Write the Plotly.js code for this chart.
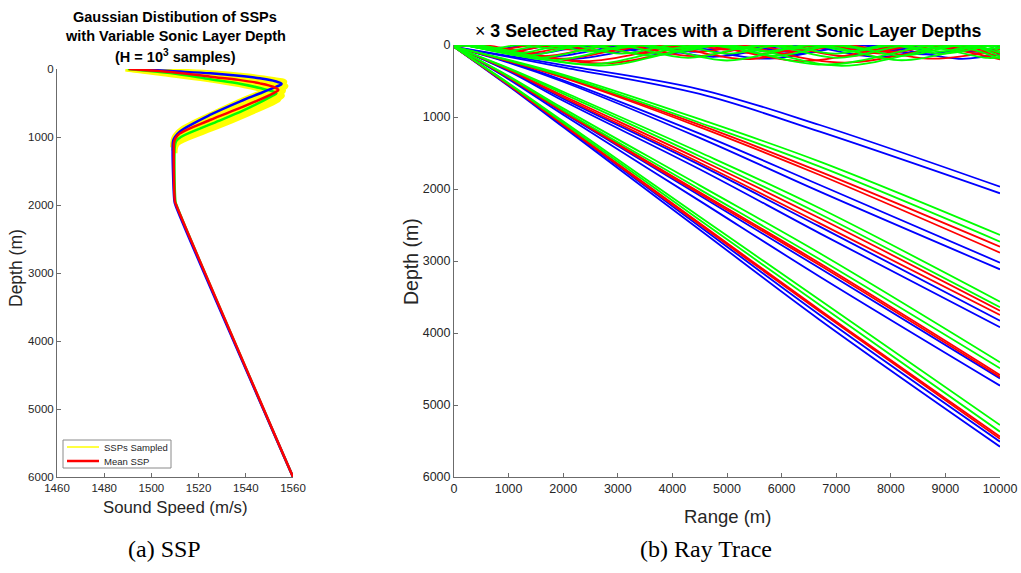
<!DOCTYPE html>
<html>
<head>
<meta charset="utf-8">
<script src="https://cdn.plot.ly/plotly-3.0.1.min.js"></script>
<style>html,body{margin:0;padding:0;background:#fff}#chart{width:1021px;height:573px}</style>
</head>
<body>
<div id="chart"></div>
<script>
// ---------------- Left panel: sound speed profiles ----------------
const speedTicks = [1460, 1480, 1500, 1520, 1540, 1560];
const speedTickText = ['1460', '1480', '1500', '1520', '1540', '1560'];
const depthTicks = [0, 1000, 2000, 3000, 4000, 5000, 6000];
const depthTickText = ['0', '1000', '2000', '3000', '4000', '5000', '6000'];
const legendNames = ['SSPs Sampled', 'Mean SSP'];

const meanSspDepth = [0, 50, 113, 160, 211, 260, 309, 350, 554, 750, 950, 1020, 1080, 1150, 1950, 2000, 6000];
const meanSspSpeed = [1490.5, 1510, 1525, 1537, 1546, 1551.5, 1553.8, 1552, 1538.9, 1524.8, 1512, 1510.2, 1509.6, 1509.5, 1510, 1510.5, 1560];

const blueSspDepth = [0, 30, 64, 100, 137, 180, 220, 260, 456, 676, 921, 1000, 1060, 1150, 1950, 2000, 6000];
const blueSspSpeed = [1494, 1508, 1525, 1537, 1546, 1552.5, 1555.2, 1553, 1539, 1524.8, 1512, 1510, 1509.2, 1509, 1509.8, 1510.2, 1560];

const greenSspDepth = [0, 60, 150, 220, 280, 330, 357, 400, 610, 800, 1000, 1060, 1120, 1200, 1950, 2000, 6000];
const greenSspSpeed = [1490, 1508, 1525, 1538, 1546, 1551.5, 1553, 1551, 1539, 1526, 1512.5, 1510.5, 1510, 1509.8, 1510.2, 1510.6, 1560];

// sampled SSPs (upper part only: below ~1200 m they collapse onto the mean profile)
const sampleSspDepths = [
  [0, 30, 60, 100, 150, 190, 230, 420, 640, 880, 980, 1050, 1150],
  [0, 40, 80, 130, 190, 250, 290, 480, 700, 930, 1010, 1070, 1150],
  [0, 50, 110, 170, 240, 320, 360, 560, 770, 980, 1040, 1100, 1200],
  [0, 60, 130, 200, 280, 390, 430, 630, 830, 1020, 1080, 1140, 1220],
  [0, 70, 150, 230, 320, 440, 480, 660, 850, 1040, 1100, 1160, 1240]
];
const sampleSspSpeeds = [
  [1492, 1510, 1527, 1540, 1551, 1556.5, 1555, 1541, 1527, 1513, 1510, 1509.2, 1509],
  [1491, 1509, 1525, 1539, 1550, 1557, 1555.5, 1542, 1527, 1513, 1510, 1509.4, 1509.2],
  [1490, 1508, 1526, 1540, 1550, 1556, 1554.5, 1541, 1526, 1512, 1510.2, 1509.6, 1509.5],
  [1489.5, 1506, 1524, 1538, 1549, 1555.5, 1554, 1540, 1526, 1513, 1510.6, 1510, 1509.8],
  [1489, 1505, 1523, 1537, 1548, 1554, 1552.5, 1541, 1528, 1514, 1511, 1510.2, 1510]
];

// ---------------- Right panel: ray traces ----------------
const rangeTicks = [0, 1000, 2000, 3000, 4000, 5000, 6000, 7000, 8000, 9000, 10000];
const rangeTickText = ['0', '1000', '2000', '3000', '4000', '5000', '6000', '7000', '8000', '9000', '10000'];
const deepRayRange = [0, 1000, 2000, 4500, 6700, 10000];

const blueDeepDepths = [
  [25, 150, 280, 615, 1111, 1968],
  [25, 165, 310, 680, 1204, 2060],
  [25, 235, 490, 1230, 1944, 3023],
  [25, 245, 510, 1290, 2037, 3116],
  [25, 355, 745, 1665, 2523, 3829],
  [25, 365, 775, 1725, 2616, 3921],
  [25, 460, 940, 2090, 3102, 4630],
  [25, 475, 970, 2165, 3218, 4731],
  [25, 560, 1120, 2520, 3750, 5509],
  [25, 570, 1140, 2565, 3819, 5579]
];
const redDeepDepths = [
  [25, 220, 445, 1110, 1759, 2801],
  [25, 225, 455, 1140, 1806, 2884],
  [25, 340, 705, 1590, 2407, 3690],
  [25, 345, 725, 1635, 2477, 3750],
  [25, 450, 920, 2045, 3032, 4583],
  [25, 455, 930, 2065, 3060, 4610],
  [25, 550, 1100, 2475, 3681, 5440],
  [25, 555, 1110, 2495, 3700, 5470]
];
const greenDeepDepths = [
  [25, 205, 410, 1030, 1620, 2639],
  [25, 215, 430, 1080, 1690, 2731],
  [25, 320, 650, 1490, 2268, 3565],
  [25, 330, 675, 1545, 2347, 3643],
  [25, 430, 880, 1950, 2893, 4407],
  [25, 440, 905, 2005, 2977, 4491],
  [25, 530, 1060, 2385, 3542, 5278],
  [25, 540, 1080, 2430, 3611, 5370]
];

// surface-duct (trapped) rays
const blueTrapRanges = [
  [0, 300, 2100, 3900, 5700, 7500, 9300, 10000],
  [0, 250, 1750, 3250, 4750, 6250, 7750, 9250, 10000],
  [0, 200, 1400, 2600, 3800, 5000, 6200, 7400, 8600, 9800, 10000],
  [0, 150, 1000, 1850, 2700, 3550, 4400, 5250, 6100, 6950, 7800, 8650, 9500, 10000],
  [0, 100, 750, 1400, 2050, 2700, 3350, 4000, 4650, 5300, 5950, 6600, 7250, 7900, 8550, 9200, 9850, 10000]
];
const blueTrapDepths = [
  [25, 0, 195, 0, 190, 0, 192, 120],
  [25, 0, 165, 0, 165, 0, 165, 0, 110],
  [25, 0, 130, 0, 130, 0, 130, 0, 130, 0, 40],
  [25, 0, 95, 0, 95, 0, 95, 0, 95, 0, 95, 0, 95, 55],
  [25, 0, 60, 0, 60, 0, 60, 0, 60, 0, 60, 0, 60, 0, 60, 0, 60, 30]
];
const redTrapRanges = [
  [0, 500, 2700, 4900, 7150, 9400, 10000],
  [0, 400, 2400, 4400, 6400, 8400, 10000],
  [0, 250, 1950, 3650, 5350, 7050, 8750, 10000],
  [0, 200, 1600, 3000, 4400, 5800, 7200, 8600, 10000],
  [0, 150, 1250, 2350, 3450, 4550, 5650, 6750, 7850, 8950, 10000],
  [0, 120, 1000, 1880, 2760, 3640, 4520, 5400, 6280, 7160, 8040, 8920, 9800, 10000],
  [0, 100, 800, 1500, 2200, 2900, 3600, 4300, 5000, 5700, 6400, 7100, 7800, 8500, 9200, 9900, 10000]
];
const redTrapDepths = [
  [25, 0, 255, 0, 245, 0, 120],
  [25, 0, 225, 0, 225, 0, 200],
  [25, 0, 190, 0, 195, 0, 190, 60],
  [25, 0, 155, 0, 155, 0, 155, 0, 155],
  [25, 0, 120, 0, 120, 0, 120, 0, 120, 0, 118],
  [25, 0, 92, 0, 92, 0, 92, 0, 92, 0, 92, 0, 92, 30],
  [25, 0, 65, 0, 65, 0, 65, 0, 65, 0, 65, 0, 65, 0, 65, 0, 10]
];
const greenTrapRanges = [
  [0, 400, 2650, 4900, 7100, 9350, 10000],
  [0, 300, 2450, 4600, 6800, 9000, 10000],
  [0, 200, 1800, 3400, 5000, 6600, 8200, 9800, 10000],
  [0, 180, 1550, 2920, 4290, 5660, 7030, 8400, 9770, 10000],
  [0, 150, 1300, 2450, 3600, 4750, 5900, 7050, 8200, 9350, 10000],
  [0, 120, 1100, 2080, 3060, 4040, 5020, 6000, 6980, 7960, 8940, 9920, 10000],
  [0, 100, 900, 1700, 2500, 3300, 4100, 4900, 5700, 6500, 7300, 8100, 8900, 9700, 10000],
  [0, 80, 650, 1220, 1790, 2360, 2930, 3500, 4070, 4640, 5210, 5780, 6350, 6920, 7490, 8060, 8630, 9200, 9770, 10000]
];
const greenTrapDepths = [
  [25, 0, 285, 0, 288, 0, 160],
  [25, 0, 268, 0, 272, 0, 190],
  [25, 0, 210, 0, 215, 0, 212, 0, 50],
  [25, 0, 180, 0, 180, 0, 180, 0, 180, 170],
  [25, 0, 150, 0, 150, 0, 150, 0, 150, 0, 110],
  [25, 0, 120, 0, 120, 0, 120, 0, 120, 0, 120, 0, 15],
  [25, 0, 90, 0, 90, 0, 90, 0, 90, 0, 90, 0, 90, 0, 90, 0, 55],
  [25, 0, 50, 0, 50, 0, 50, 0, 50, 0, 50, 0, 50, 0, 50, 0, 50, 0, 50, 40]
];

// ---------------- Build traces ----------------
const BLUE = '#0000ff', RED = '#ff0000', GREEN = '#00ff00', YELLOW = '#ffff00';
const traces = [];

sampleSspSpeeds.forEach((sp, i) => {
  traces.push({x: sp, y: sampleSspDepths[i], xaxis: 'x', yaxis: 'y', mode: 'lines',
    line: {color: YELLOW, width: 5, shape: 'spline'}, showlegend: false, hoverinfo: 'skip'});
});
traces.push({x: greenSspSpeed, y: greenSspDepth, xaxis: 'x', yaxis: 'y', mode: 'lines',
  line: {color: GREEN, width: 2.5, shape: 'spline'}, showlegend: false});
traces.push({x: blueSspSpeed, y: blueSspDepth, xaxis: 'x', yaxis: 'y', mode: 'lines',
  line: {color: BLUE, width: 2.5, shape: 'spline'}, showlegend: false});
traces.push({x: meanSspSpeed, y: meanSspDepth, xaxis: 'x', yaxis: 'y', mode: 'lines',
  line: {color: RED, width: 2.5, shape: 'spline'}, showlegend: false});

function addRays(ranges, depths, color) {
  depths.forEach((d, i) => {
    const r = Array.isArray(ranges[0]) ? ranges[i] : ranges;
    traces.push({x: r, y: d, xaxis: 'x2', yaxis: 'y2', mode: 'lines',
      line: {color: color, width: 1.8, shape: 'spline'}, showlegend: false, hoverinfo: 'skip'});
  });
}
addRays(blueTrapRanges, blueTrapDepths, BLUE);
addRays(deepRayRange, blueDeepDepths, BLUE);
addRays(redTrapRanges, redTrapDepths, RED);
addRays(deepRayRange, redDeepDepths, RED);
addRays(greenTrapRanges, greenTrapDepths, GREEN);
addRays(deepRayRange, greenDeepDepths, GREEN);

// ---------------- Layout ----------------
const W = 1021, H = 573;
const px = v => v / W, py = v => 1 - v / H;
const FONT = 'Liberation Sans, Arial, Helvetica, sans-serif';
const SERIF = 'Liberation Serif, Times New Roman, serif';
const axisCommon = {showline: true, linecolor: '#6b6b6b', linewidth: 1, ticks: 'inside', ticklen: 4,
  tickcolor: '#6b6b6b', showgrid: false, zeroline: false, mirror: false, tickmode: 'array'};

// hand-drawn legend box (left panel)
const legendShapes = [
  {type: 'rect', xref: 'paper', yref: 'paper', x0: px(63), x1: px(171), y0: py(468), y1: py(440),
    line: {color: '#8a8a8a', width: 1}, fillcolor: '#ffffff', layer: 'above'},
  {type: 'line', xref: 'paper', yref: 'paper', x0: px(67), x1: px(99), y0: py(447), y1: py(447),
    line: {color: YELLOW, width: 1.5}, layer: 'above'},
  {type: 'line', xref: 'paper', yref: 'paper', x0: px(67), x1: px(99), y0: py(461), y1: py(461),
    line: {color: RED, width: 2.5}, layer: 'above'}
];

const annDefs = [
  {text: '<b>Gaussian Distibution of SSPs</b>', x: 175, y: 17},
  {text: '<b>with Variable Sonic Layer Depth</b>', x: 175, y: 36.5},
  {text: '<b>(H = 10<sup>3</sup> samples)</b>', x: 175, y: 56},
  {text: '× <b>3 Selected Ray Traces with a Different Sonic Layer Depths</b>', x: 728, y: 31, fsize: 17.8},
  {text: 'Sound Speed (m/s)', x: 175, y: 507, fsize: 16.8, color: '#262626'},
  {text: 'Depth (m)', x: 16, y: 268, fsize: 17.5, color: '#262626', textangle: -90},
  {text: 'Range (m)', x: 727, y: 516, fsize: 18.5, color: '#262626'},
  {text: 'Depth (m)', x: 411, y: 262, fsize: 19.5, color: '#262626', textangle: -90},
  {text: '(a) SSP', x: 164, y: 549, fsize: 24, family: SERIF},
  {text: '(b) Ray Trace', x: 706, y: 549, fsize: 24, family: SERIF},
  {text: legendNames[0], x: 102, y: 447, fsize: 9.5, color: '#262626', xanchor: 'left'},
  {text: legendNames[1], x: 102, y: 461, fsize: 9.5, color: '#262626', xanchor: 'left'}
];

const layout = {
  width: W, height: H,
  margin: {l: 0, r: 0, t: 0, b: 0},
  paper_bgcolor: '#ffffff', plot_bgcolor: '#ffffff',
  showlegend: false,
  xaxis: Object.assign({}, axisCommon, {domain: [px(57), px(293)], range: [1460, 1560],
    tickvals: speedTicks, ticktext: speedTickText, anchor: 'y',
    tickfont: {family: FONT, size: 11.5, color: '#262626'}}),
  yaxis: Object.assign({}, axisCommon, {domain: [py(477), py(69)], range: [6000, 0],
    tickvals: depthTicks, ticktext: depthTickText, anchor: 'x',
    tickfont: {family: FONT, size: 11.5, color: '#262626'}}),
  xaxis2: Object.assign({}, axisCommon, {domain: [px(454), px(1000)], range: [0, 10000],
    tickvals: rangeTicks, ticktext: rangeTickText, anchor: 'y2',
    tickfont: {family: FONT, size: 12.5, color: '#262626'}}),
  yaxis2: Object.assign({}, axisCommon, {domain: [py(477), py(45)], range: [6000, 0],
    tickvals: depthTicks, ticktext: depthTickText, anchor: 'x2',
    tickfont: {family: FONT, size: 12.5, color: '#262626'}}),
  shapes: legendShapes,
  annotations: annDefs.map(a => ({text: a.text, x: px(a.x), y: py(a.y), xref: 'paper', yref: 'paper',
    xanchor: a.xanchor || 'center', yanchor: 'middle', showarrow: false, textangle: a.textangle || 0,
    font: {family: a.family || FONT, size: a.fsize || 14.5, color: a.color || '#000000'}}))
};

Plotly.newPlot('chart', traces, layout, {displayModeBar: false, staticPlot: true});
</script>
</body>
</html>
